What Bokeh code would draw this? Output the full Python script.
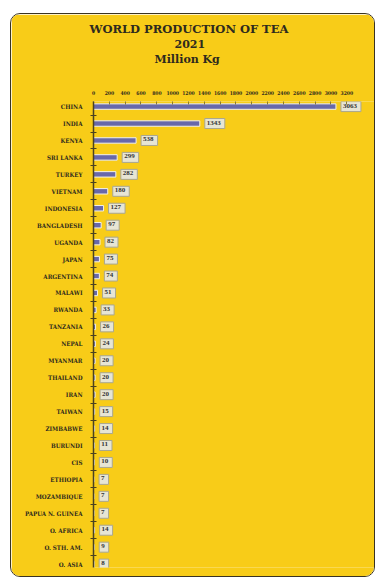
from bokeh.plotting import figure
from bokeh.models import Range1d, FixedTicker, Title, ColumnDataSource
from bokeh.embed import file_html
from bokeh.resources import INLINE

countries = ["CHINA", "INDIA", "KENYA", "SRI LANKA", "TURKEY", "VIETNAM", "INDONESIA",
             "BANGLADESH", "UGANDA", "JAPAN", "ARGENTINA", "MALAWI", "RWANDA", "TANZANIA",
             "NEPAL", "MYANMAR", "THAILAND", "IRAN", "TAIWAN", "ZIMBABWE", "BURUNDI", "CIS",
             "ETHIOPIA", "MOZAMBIQUE", "PAPUA N. GUINEA", "O. AFRICA", "O. STH. AM.", "O. ASIA"]
production = [3063, 1343, 538, 299, 282, 180, 127, 97, 82, 75, 74, 51, 33, 26, 24, 20, 20, 20,
              15, 14, 11, 10, 7, 7, 7, 14, 9, 8]
x_ticks = list(range(0, 3201, 200))

YELLOW = "#F8CC18"
DARK = "#2e2a1e"

pos = list(range(len(countries)))
src = ColumnDataSource(dict(y=pos, v=production, lab=[str(v) for v in production]))

p = figure(width=365, height=564, output_backend="svg", toolbar_location=None,
           x_range=Range1d(0, 3550), y_range=Range1d(27.2, -0.3),
           x_axis_location="above", min_border_left=82, min_border_right=2,
           min_border_top=87, min_border_bottom=11, margin=(13, 3, 2, 10),
           styles={"border-radius": "10px", "border": "1.5px solid #3a3322", "overflow": "hidden"})
p.border_fill_color = YELLOW
p.background_fill_color = YELLOW
p.outline_line_color = None
p.grid.visible = False

p.hbar(y="y", left=0, right="v", height=0.32, source=src, fill_color="#6868AA",
       line_color="#F4F2E8", line_width=1)
p.text(x="v", y="y", text="lab", source=src, x_offset=5, text_align="left",
       text_baseline="middle", text_font_size="7px", text_font_style="bold",
       text_font="DejaVu Sans", text_color="#333333",
       background_fill_color="#E7E5D4", border_line_color="#A9A78F", border_line_width=1,
       padding=[2, 4, 2, 4])

xa = p.xaxis[0]
xa.ticker = FixedTicker(ticks=x_ticks)
xa.major_label_text_font = "DejaVu Serif Condensed"
xa.major_label_text_font_style = "bold"
xa.major_label_text_font_size = "5px"
xa.major_label_text_color = DARK
xa.major_label_standoff = 7
xa.axis_line_color = None
xa.major_tick_line_color = "#8a7a30"
xa.major_tick_in = 3
xa.major_tick_out = 0
xa.minor_tick_line_color = None

ya = p.yaxis[0]
ya.ticker = FixedTicker(ticks=pos, minor_ticks=[i + 0.5 for i in range(-1, 27)])
ya.major_label_overrides = {i: c for i, c in enumerate(countries)}
ya.major_label_text_font = "DejaVu Serif Condensed"
ya.major_label_text_font_style = "bold"
ya.major_label_text_font_size = "6.2px"
ya.major_label_text_color = DARK
ya.major_label_standoff = 5
ya.axis_line_color = "#4a4220"
ya.axis_line_width = 1.5
ya.major_tick_line_color = None
ya.minor_tick_line_color = "#4a4220"
ya.minor_tick_in = 3
ya.minor_tick_out = 3

for txt, size, sb, off in [(" ", "11px", 6, 0), ("Million Kg", "11px", 2, 61),
                           ("2021", "11px", 3, 81), ("WORLD PRODUCTION OF TEA", "11.5px", 2, -4)]:
    p.add_layout(Title(text=txt, align="left", offset=off, text_font="DejaVu Serif",
                       text_font_style="bold", text_font_size=size, text_color=DARK,
                       standoff=sb), "above")

open("out.html", "w").write(file_html(p, INLINE))
